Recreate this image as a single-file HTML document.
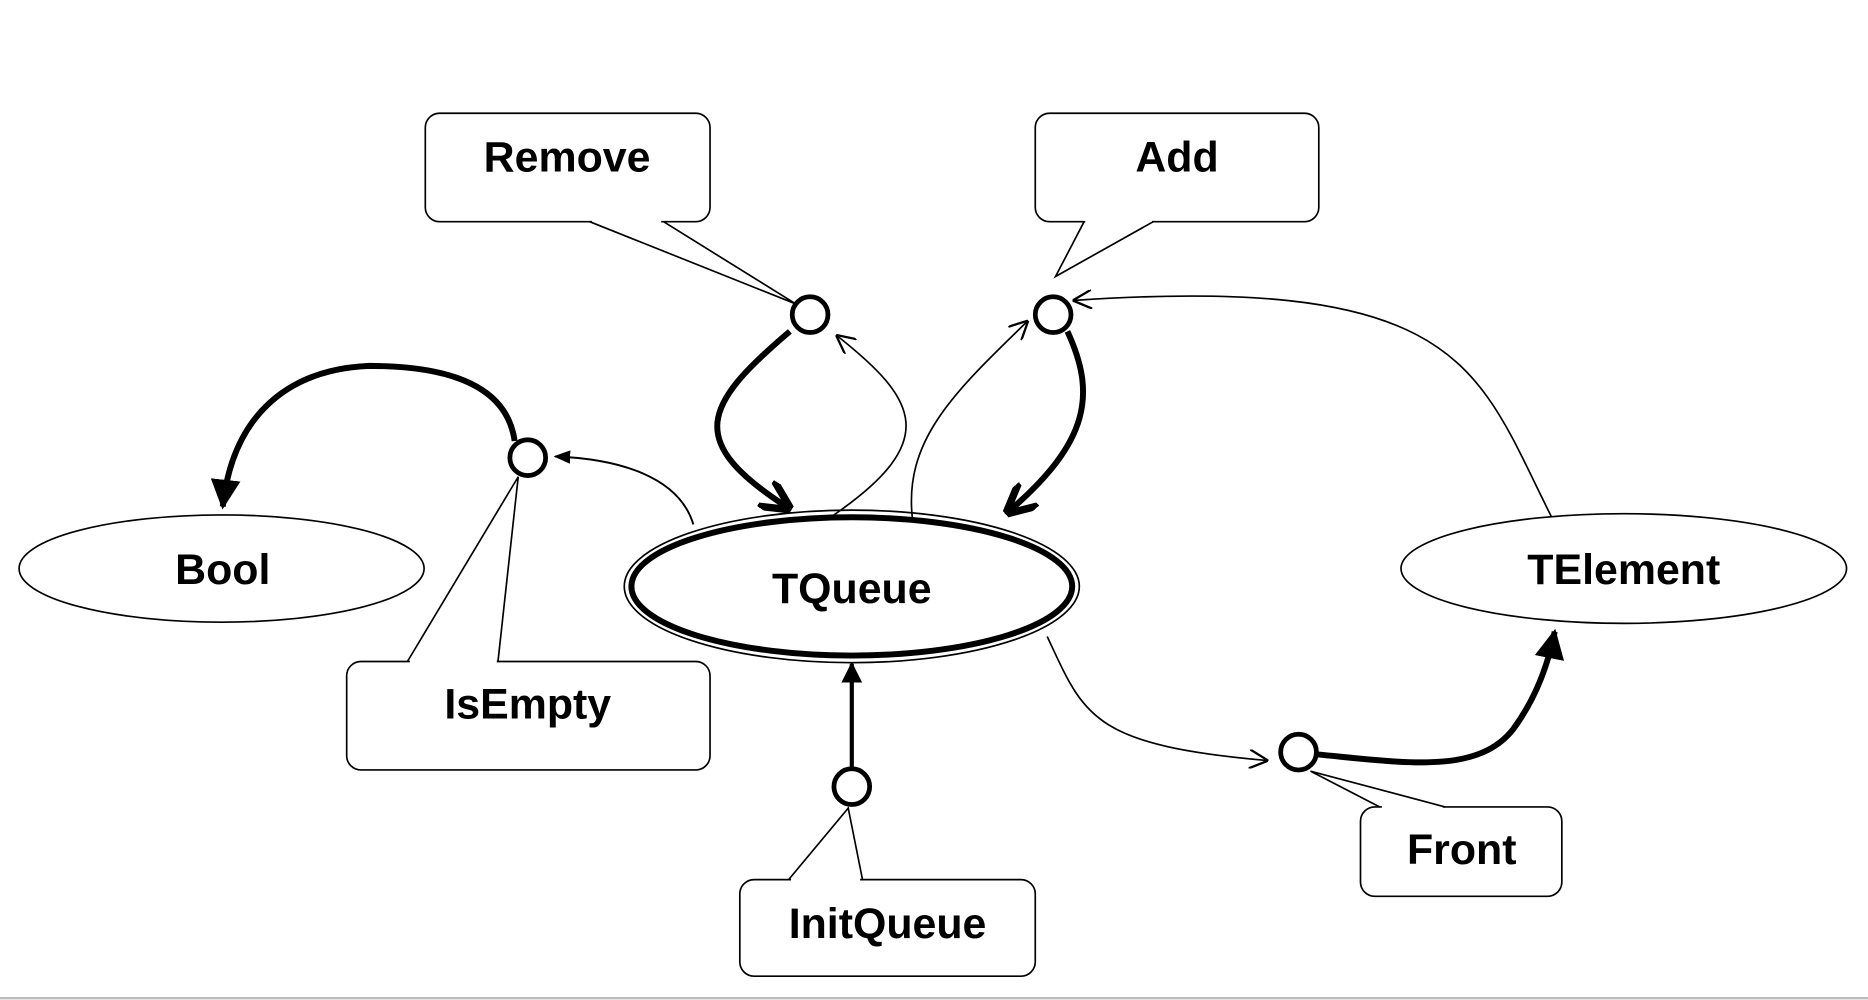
<!DOCTYPE html>
<html><head><meta charset="utf-8"><style>
html,body{margin:0;padding:0;background:#fff;width:1868px;height:1000px;overflow:hidden}
svg{display:block}
text{font-family:"Liberation Sans",sans-serif;font-weight:bold;font-size:36px;fill:#000;text-anchor:middle}
</style></head><body>
<svg width="1868" height="1000" viewBox="0 0 1568 839" preserveAspectRatio="none">
<defs>
<marker id="fa" viewBox="0 0 10 10" refX="9" refY="5" markerWidth="5" markerHeight="5" orient="auto" markerUnits="strokeWidth"><path d="M0,0 L10,5 L0,10 Z" fill="#000"/></marker>
<marker id="fa2" viewBox="0 0 10 10" refX="9" refY="5" markerWidth="14" markerHeight="14" orient="auto" markerUnits="userSpaceOnUse"><path d="M0,1 L10,5 L0,9 Z" fill="#000"/></marker>
<marker id="oa" viewBox="0 0 10 10" refX="9" refY="5" markerWidth="16" markerHeight="16" orient="auto" markerUnits="userSpaceOnUse"><path d="M0,0 L10,5 L0,10" fill="none" stroke="#000" stroke-width="1.2"/></marker>
<marker id="ta" viewBox="0 0 10 10" refX="8" refY="5" markerWidth="26" markerHeight="26" orient="auto" markerUnits="userSpaceOnUse"><path d="M0,0 L10,5 L0,10" fill="none" stroke="#000" stroke-width="2.4"/></marker>
</defs>
<g fill="#fff" stroke="#000" stroke-width="1.4">
<rect x="357" y="95" width="239" height="91" rx="12"/>
<rect x="869" y="95" width="238" height="91" rx="12"/>
<rect x="291" y="555" width="305" height="91" rx="12"/>
<rect x="621" y="738" width="248" height="81" rx="12"/>
<rect x="1142" y="677" width="169" height="75" rx="12"/>
</g>
<g stroke="#fff" stroke-width="3">
<line x1="497" y1="186" x2="555" y2="186"/>
<line x1="911" y1="186" x2="967" y2="186"/>
<line x1="344" y1="555" x2="417" y2="555"/>
<line x1="664" y1="738" x2="722" y2="738"/>
<line x1="1160" y1="677" x2="1211" y2="677"/>
</g>
<g stroke="#000" stroke-width="1.4" fill="none">
<polyline points="495,186 668,255 557,186"/>
<polyline points="910,186 886,232 968,186"/>
<polyline points="342,555 435,400 418,555"/>
<polyline points="662,738 712,678 724,738"/>
<polyline points="1158,677 1100,647 1213,677"/>
</g>
<g fill="#fff" stroke="#000">
<ellipse cx="186" cy="477" rx="170" ry="45" stroke-width="1.4"/>
<ellipse cx="1363" cy="477" rx="187" ry="46" stroke-width="1.4"/>
<ellipse cx="715" cy="492" rx="191" ry="64" stroke-width="1.4"/>
<ellipse cx="715" cy="492" rx="185" ry="58" stroke-width="5"/>
</g>
<g fill="none" stroke="#000">
<path d="M663,278 C 590,340 575,370 660,425" stroke-width="5" marker-end="url(#ta)"/>
<path d="M700,432 C 790,370 770,335 703,282" stroke-width="1.4" marker-end="url(#oa)"/>
<path d="M896,278 C 920,330 915,370 848,428" stroke-width="5" marker-end="url(#ta)"/>
<path d="M766,436 C 758,370 800,330 862,270" stroke-width="1.4" marker-end="url(#oa)"/>
<path d="M1302,433 C 1240,310 1230,230 902,252" stroke-width="1.4" marker-end="url(#oa)"/>
<path d="M582,440 C 570,400 520,385 466,383" stroke-width="1.6" marker-end="url(#fa2)"/>
<path d="M432,370 C 425,320 370,307 310,307 C 240,310 195,350 187,425" stroke-width="5" marker-end="url(#fa)"/>
<path d="M715,645 L 715,557" stroke-width="3.5" marker-end="url(#fa)"/>
<path d="M879,534 C 910,600 915,625 1063,638" stroke-width="1.4" marker-end="url(#oa)"/>
<path d="M1106,633 C 1180,640 1240,650 1270,612 C 1290,585 1300,555 1305,530" stroke-width="5" marker-end="url(#fa)"/>
</g>
<g fill="#fff" stroke="#000" stroke-width="4">
<circle cx="680" cy="264" r="15"/>
<circle cx="884" cy="264" r="15"/>
<circle cx="443" cy="384" r="15"/>
<circle cx="715" cy="660" r="15"/>
<circle cx="1090" cy="631" r="15"/>
</g>
<text x="476" y="144">Remove</text>
<text x="988" y="144">Add</text>
<text x="187" y="490">Bool</text>
<text x="715" y="506">TQueue</text>
<text x="1363" y="490">TElement</text>
<text x="443" y="603">IsEmpty</text>
<text x="745" y="787">InitQueue</text>
<text x="1227" y="725">Front</text>
<line x1="0" y1="837.5" x2="1568" y2="837.5" stroke="#bbb" stroke-width="2"/>
</svg>
</body></html>
